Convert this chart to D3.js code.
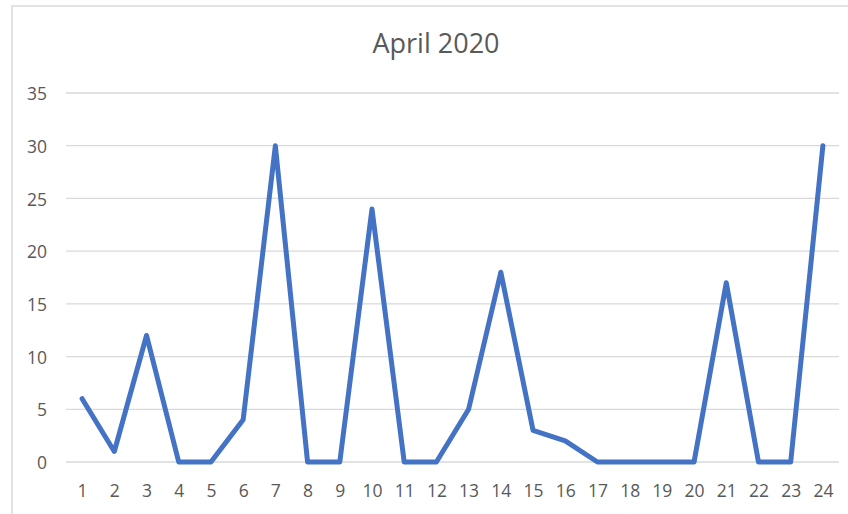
<!DOCTYPE html>
<html>
<head>
<meta charset="utf-8">
<script src="https://cdn.jsdelivr.net/npm/d3@7"></script>
<style>
  body { margin: 0; background: #fff; }
  svg { display: block; }
</style>
</head>
<body>
<svg></svg>
<script>
let width = 848;
let height = 514;

let days = ['1','2','3','4','5','6','7','8','9','10','11','12','13','14','15','16','17','18','19','20','21','22','23','24'];
let counts = [6, 1, 12, 0, 0, 4, 30, 0, 0, 24, 0, 0, 5, 18, 3, 2, 0, 0, 0, 0, 17, 0, 0, 30];
let yTicks = [0, 5, 10, 15, 20, 25, 30, 35];
let title = 'April 2020';

let plotLeft = 66, plotRight = 839, plotTop = 93, plotBottom = 462;
let textColor = '#595959';
let font = '"Open Sans", "Liberation Sans", sans-serif';

let svg = d3.select('svg')
            .attr('width', width)
            .attr('height', height);

// chart frame
svg.append('rect')
  .attr('x', 12).attr('y', 6)
  .attr('width', width + 20).attr('height', height + 20)
  .attr('fill', 'none')
  .attr('stroke', '#d9d9d9')
  .attr('stroke-width', 1.5);

let xScale = d3.scalePoint()
                .domain(days)
                .range([plotLeft, plotRight])
                .padding(0.5);

let yScale = d3.scaleLinear()
                .domain([0, 35])
                .range([plotBottom, plotTop]);

// gridlines
svg.append('g')
  .selectAll('line')
  .data(yTicks)
  .enter()
  .append('line')
    .attr('x1', plotLeft)
    .attr('x2', plotRight)
    .attr('y1', d => yScale(d))
    .attr('y2', d => yScale(d))
    .attr('stroke', '#d9d9d9')
    .attr('stroke-width', 1.3);

// y axis labels
let yAxis = svg.append('g')
  .attr('transform', `translate(${plotLeft - 19}, 1)`)
  .call(d3.axisLeft(yScale).tickValues(yTicks).tickSize(0).tickPadding(0));
yAxis.select('.domain').remove();
yAxis.selectAll('text')
  .attr('fill', textColor)
  .style('font-family', font)
  .style('font-size', '17.5px');

// x axis labels
let xAxis = svg.append('g')
  .attr('transform', `translate(0, ${plotBottom})`)
  .call(d3.axisBottom(xScale).tickSize(0).tickPadding(23));
xAxis.select('.domain').remove();
xAxis.selectAll('text')
  .attr('fill', textColor)
  .style('font-family', font)
  .style('font-size', '17.5px');

// line
let line = d3.line()
              .x((d, i) => xScale(days[i]))
              .y(d => yScale(d));

svg.append('path')
  .datum(counts)
  .attr('d', line)
  .attr('fill', 'none')
  .attr('stroke', '#4472c4')
  .attr('stroke-width', 5)
  .attr('stroke-linejoin', 'round')
  .attr('stroke-linecap', 'round');

// title
svg.append('text')
  .attr('x', 436)
  .attr('y', 53)
  .style('text-anchor', 'middle')
  .style('font-family', font)
  .style('font-size', '27px')
  .attr('fill', textColor)
  .text(title);
</script>
</body>
</html>
